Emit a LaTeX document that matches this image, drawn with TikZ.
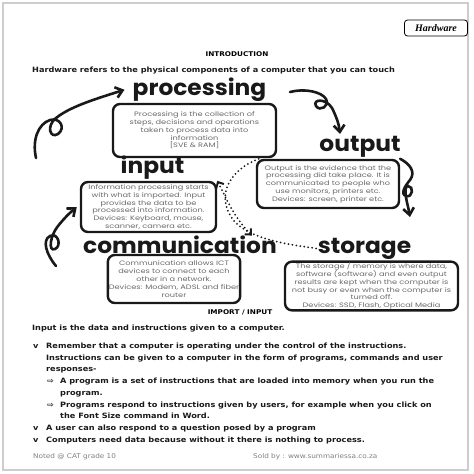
\documentclass[tikz,border=0pt]{standalone}
\usepackage{fontspec}
\setmainfont{DejaVu Sans}[FakeStretch=1.12]
\newfontfamily\boxfont{Poppins}[FakeStretch=1.28]
\newfontfamily\headfont{Poppins}[FakeStretch=1.06]
\newfontfamily\badgefont{Liberation Serif}
\usetikzlibrary{arrows.meta,positioning}
\definecolor{boxgray}{RGB}{105,105,105}
\definecolor{framegray}{RGB}{205,205,205}
\definecolor{inkblack}{RGB}{25,25,25}

\begin{document}
\begin{tikzpicture}[x=1pt, y=-1pt]
  \tikzset{
    block/.style={draw=inkblack, line width=2.4pt, rounded corners=7pt, align=center, inner sep=1pt, text=boxgray, font=\boxfont\fontsize{6.4}{7.8}\selectfont},
    title/.style={inner sep=0pt, text=inkblack, font=\headfont\bfseries\fontsize{22}{22}\selectfont},
    curl/.style={-{Straight Barb[length=2.4mm, width=3.8mm]}, line width=2.6pt, line cap=round, draw=inkblack},
    link/.style={line width=2pt, line cap=round, dash pattern=on 0pt off 4pt, draw=inkblack},
    line/.style={anchor=base west, inner sep=0pt, text=inkblack, font=\bfseries\fontsize{7.3}{8}\selectfont},
    foot/.style={anchor=base west, inner sep=0pt, text=gray, font=\fontsize{6.5}{8}\selectfont}
  }

  \useasboundingbox (0,0) rectangle (474,474);
  \draw[framegray, line width=1.2pt] (3,3) rectangle (468,470);

  \node[draw, rounded corners=3pt, line width=0.8pt, minimum width=63pt, minimum height=16pt, inner sep=0pt, font=\badgefont\bfseries\itshape\fontsize{10}{10}\selectfont] (badge) at (436,28) {Hardware};

  \node[inner sep=0pt, font=\bfseries\fontsize{6.5}{8}\selectfont] (intro) at (237,54) {INTRODUCTION};
  \node[line] (hwdef) at (32,72) {Hardware refers to the physical components of a computer that you can touch};

  \node[block, minimum width=163pt, minimum height=53pt] (procbox) at (194.5,130.5) {Processing is the collection of\\steps, decisions and operations\\taken to process data into\\information\\{[SVE \& RAM]}};
  \node[block, minimum width=142pt, minimum height=48pt] (outbox) at (328,184) {Output is the evidence that the\\processing did take place. It is\\communicated to people who\\use monitors, printers etc.\\Devices: screen, printer etc.};
  \node[block, minimum width=135pt, minimum height=50pt] (inbox) at (148.5,207) {Information processing starts\\with what is imported. Input\\provides the data to be\\processed into information.\\Devices: Keyboard, mouse,\\scanner, camera etc.};
  \node[block, minimum width=132pt, minimum height=48pt] (combox) at (174,279) {Communication allows ICT\\devices to connect to each\\other in a network.\\Devices: Modem, ADSL and fiber\\router};
  \node[block, minimum width=173pt, minimum height=46pt] (storbox) at (371.5,286) {The storage / memory is where data,\\software (software) and even output\\results are kept when the computer is\\not busy or even when the computer is\\turned off.\\Devices: SSD, Flash, Optical Media};

  \node[title, above=1pt of procbox, xshift=5pt] (proc) {processing};
  \node[title, above=1pt of outbox, xshift=32pt] (out) {output};
  \node[title, above=1pt of inbox, xshift=4pt] (in) {input};
  \node[title, above=0pt of combox, xshift=6pt] (com) {communication};
  \node[title, above=1pt of storbox, xshift=-7pt] (stor) {storage};

  \coordinate (atail) at (36,158);
  \coordinate (btail) at (290,92);
  \coordinate (btip) at (340,134);
  \coordinate (ctip) at (410,217);
  \coordinate (dtail) at (56,266);

  \draw[curl] (atail) .. controls (32,140) and (38,124) .. (50,120) .. controls (60,117) and (66,128) .. (58,134) .. controls (50,139) and (46,126) .. (56,118) .. controls (70,107) and (92,100) .. ([xshift=-8pt]proc.west);
  \draw[curl] (btail) .. controls (305,88) and (322,92) .. (326,99) .. controls (330,106) and (320,112) .. (316,106) .. controls (312,99) and (326,98) .. (332,108) .. controls (336,116) and (339,124) .. (btip);
  \draw[curl] (outbox.north east) .. controls (410,164) and (416,172) .. (410,180) .. controls (405,186) and (400,194) .. (406,196) .. controls (413,198) and (414,186) .. (408,186) .. controls (402,187) and (408,205) .. (ctip);
  \draw[curl] (dtail) .. controls (46,254) and (42,240) .. (50,236) .. controls (58,232) and (62,246) .. (55,249) .. controls (48,252) and (50,236) .. (58,226) .. controls (66,216) and (72,211) .. ([xshift=-3pt]inbox.west);

  \draw[link] (outbox.160) .. controls (225,172) and (216,200) .. (235,222) .. controls (252,240) and (292,245) .. (stor.west);
  \draw[link, {Straight Barb[length=1.6mm, width=3mm]}-{Straight Barb[length=1.6mm, width=3mm]}] (inbox.north east) .. controls (225,195) and (232,215) .. ([xshift=-25pt]com.north east);

  \node[inner sep=0pt, font=\bfseries\fontsize{6.5}{8}\selectfont] (imp) at (240,312) {IMPORT / INPUT};
  \node[line] (def) at (32,330) {Input is the data and instructions given to a computer.};
  \node[line] (b1) at (33,348) {v};
  \node[line] (l1) at (46,348) {Remember that a computer is operating under the control of the instructions.};
  \node[line] (l2) at (46,360) {Instructions can be given to a computer in the form of programs, commands and user};
  \node[line] (l3) at (46,371) {responses-};
  \node[line] (a1) at (47,383) {⇨};
  \node[line] (l4) at (60,383) {A program is a set of instructions that are loaded into memory when you run the};
  \node[line] (l5) at (60,395) {program.};
  \node[line] (a2) at (47,407) {⇨};
  \node[line] (l6) at (60,407) {Programs respond to instructions given by users, for example when you click on};
  \node[line] (l7) at (60,418) {the Font Size command in Word.};
  \node[line] (b2) at (33,430) {v};
  \node[line] (l8) at (46,430) {A user can also respond to a question posed by a program};
  \node[line] (b3) at (33,442) {v};
  \node[line] (l9) at (46,442) {Computers need data because without it there is nothing to process.};

  \node[foot] (noted) at (33,458) {Noted @ CAT grade 10};
  \node[foot] (sold) at (253,458) {Sold by : www.summariessa.co.za};
\end{tikzpicture}
\end{document}
